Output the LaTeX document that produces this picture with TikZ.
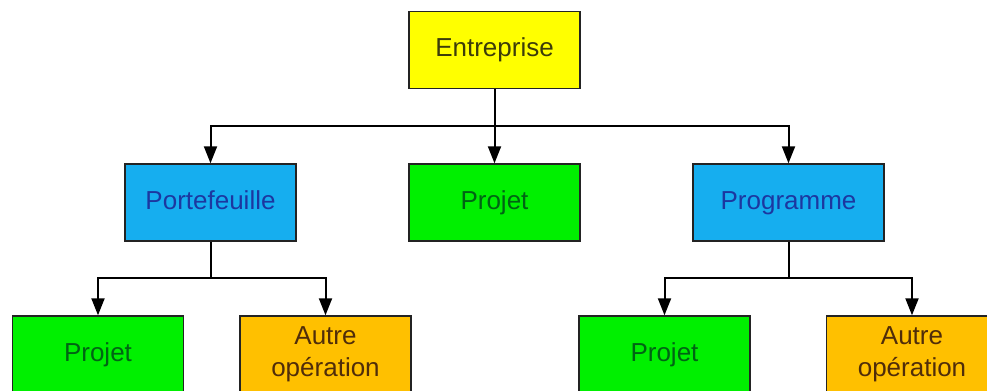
\documentclass[tikz,border=0pt]{standalone}
\usepackage{fontspec}
\setmainfont{Liberation Sans}
\usetikzlibrary{arrows.meta}

\definecolor{jaune}{RGB}{255,255,0}
\definecolor{jauneT}{RGB}{60,60,10}
\definecolor{bleu}{RGB}{22,174,239}
\definecolor{bleuT}{RGB}{28,55,160}
\definecolor{vert}{RGB}{0,240,0}
\definecolor{vertT}{RGB}{0,100,20}
\definecolor{orange}{RGB}{255,192,0}
\definecolor{orangeT}{RGB}{80,45,10}
\definecolor{bord}{RGB}{35,35,35}

\begin{document}
\begin{tikzpicture}[x=0.5pt,y=-0.5pt,
        box/.style={draw=bord, line width=0.7pt, rectangle, minimum width=85.5pt, minimum height=38.5pt,
                    inner sep=2pt, align=center, font=\fontsize{13}{16}\selectfont},
        ligne/.style={box, text height=9.4pt, text depth=2.8pt},
        arr/.style={line width=1pt, -{Triangle[length=8.5pt,width=6.5pt]}}]
        \clip (0,0) rectangle (987,391);
        \fill[white] (0,0) rectangle (987,391);

        % Boîtes
        \node[ligne, fill=jaune, text=jauneT] (ent) at (494.5,50) {Entreprise};
        \node[ligne, fill=bleu, text=bleuT] (port) at (210.5,202.5) {Portefeuille};
        \node[ligne, fill=vert, text=vertT] (proj) at (494.5,202.5) {Projet};
        \node[ligne, fill=bleu, text=bleuT, minimum width=95.5pt] (prog) at (788.5,202.5) {Programme};

        \node[ligne, fill=vert, text=vertT] (projA) at (98,354.5) {Projet};
        \node[box, fill=orange, text=orangeT] (autreA) at (325.5,354.5) {Autre\\opération};
        \node[ligne, fill=vert, text=vertT] (projB) at (664.5,354.5) {Projet};
        \node[box, fill=orange, text=orangeT] (autreB) at (912,354.5) {Autre\\opération};

        % Jonctions
        \coordinate (j0) at (494.5,126);
        \coordinate (j1) at (210.5,278);
        \coordinate (j2) at (788.5,278);

        % Liaisons
        \draw[arr] (ent.south) -- (proj.north);
        \draw[arr] (j0) -| (port.north);
        \draw[arr] (j0) -| (prog.north);

        \draw[line width=1pt] (port.south) -- (j1);
        \draw[arr] (j1) -| (projA.north);
        \draw[arr] (j1) -| (autreA.north);

        \draw[line width=1pt] (prog.south) -- (j2);
        \draw[arr] (j2) -| (projB.north);
        \draw[arr] (j2) -| (autreB.north);
    \end{tikzpicture}
\end{document}
